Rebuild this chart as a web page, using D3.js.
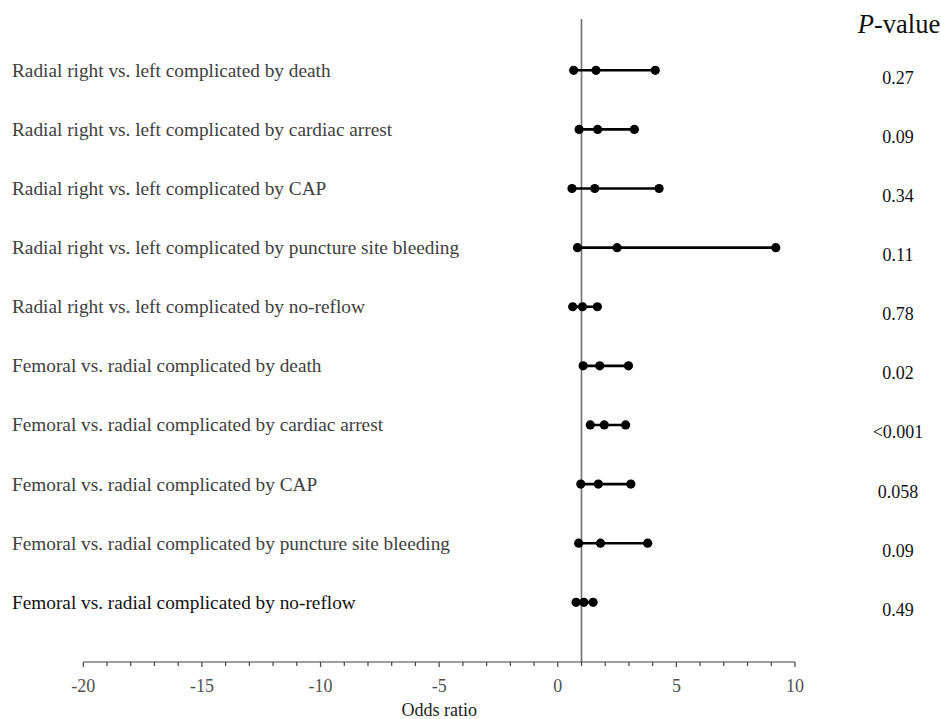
<!DOCTYPE html>
<html>
<head>
<meta charset="utf-8">
<script src="https://cdn.jsdelivr.net/npm/d3@7"></script>
<style>
  body { margin: 0; background: #fff; }
  svg { display: block; }
</style>
</head>
<body>
<svg id="chart" width="941" height="719"></svg>
<script>
// Comparisons, top to bottom
const categories = [
  "Radial right vs. left complicated by death",
  "Radial right vs. left complicated by cardiac arrest",
  "Radial right vs. left complicated by CAP",
  "Radial right vs. left complicated by puncture site bleeding",
  "Radial right vs. left complicated by no-reflow",
  "Femoral vs. radial complicated by death",
  "Femoral vs. radial complicated by cardiac arrest",
  "Femoral vs. radial complicated by CAP",
  "Femoral vs. radial complicated by puncture site bleeding",
  "Femoral vs. radial complicated by no-reflow"
];
// Odds ratio with 95% CI
const lower = [0.67, 0.90, 0.60, 0.83, 0.63, 1.07, 1.37, 0.97, 0.88, 0.77];
const oddsRatio = [1.61, 1.68, 1.56, 2.50, 1.04, 1.77, 1.96, 1.71, 1.80, 1.10];
const upper = [4.11, 3.23, 4.27, 9.19, 1.67, 2.98, 2.86, 3.08, 3.79, 1.49];
const pValues = ["0.27", "0.09", "0.34", "0.11", "0.78", "0.02", "<0.001", "0.058", "0.09", "0.49"];
const xTicks = [-20, -15, -10, -5, 0, 5, 10];

const svg = d3.select("#chart");
const font = "'Liberation Serif', 'Times New Roman', serif";

const x = d3.scaleLinear().domain([-20, 10]).range([83.3, 795]);
const y = d3.scalePoint().domain(categories).range([70.3, 602.3]);
const axisY = 662;

// Reference line at OR = 1
svg.append("line")
  .attr("x1", x(1)).attr("x2", x(1))
  .attr("y1", 19).attr("y2", axisY)
  .attr("stroke", "#6f6f6f")
  .attr("stroke-width", 1.6);

// X axis: minor ticks every 1, labels every 5
const axis = svg.append("g").attr("transform", `translate(0,${axisY})`);
axis.append("line")
  .attr("x1", x(-20)).attr("x2", x(10))
  .attr("stroke", "#404040").attr("stroke-width", 1.2);
axis.selectAll("line.tick")
  .data(d3.range(-20, 11))
  .join("line")
  .attr("class", "tick")
  .attr("x1", d => x(d)).attr("x2", d => x(d))
  .attr("y1", 0).attr("y2", d => d % 5 === 0 ? 5 : 4)
  .attr("stroke", "#404040").attr("stroke-width", 1.2);
axis.selectAll("text")
  .data(xTicks)
  .join("text")
  .attr("x", d => x(d))
  .attr("y", 30)
  .attr("text-anchor", "middle")
  .attr("fill", "#505050")
  .attr("font-size", 18)
  .style("font-family", font)
  .text(d => d);

// Axis title
svg.append("text")
  .attr("x", (x(-20) + x(10)) / 2)
  .attr("y", 716)
  .attr("text-anchor", "middle")
  .attr("fill", "#222")
  .attr("font-size", 18)
  .style("font-family", font)
  .text("Odds ratio");

// CI lines
const rows = categories.map((c, i) => ({ c, lo: lower[i], or: oddsRatio[i], hi: upper[i], p: pValues[i], i }));
svg.selectAll("line.ci")
  .data(rows)
  .join("line")
  .attr("class", "ci")
  .attr("x1", d => x(d.lo)).attr("x2", d => x(d.hi))
  .attr("y1", d => y(d.c)).attr("y2", d => y(d.c))
  .attr("stroke", "#000").attr("stroke-width", 2.6);

// Points: lower, OR, upper
svg.selectAll("g.pts")
  .data(rows)
  .join("g")
  .attr("class", "pts")
  .selectAll("circle")
  .data(d => [d.lo, d.or, d.hi].map(v => ({ v, c: d.c })))
  .join("circle")
  .attr("cx", d => x(d.v))
  .attr("cy", d => y(d.c))
  .attr("r", 4.6)
  .attr("fill", "#000");

// Row labels
svg.selectAll("text.label")
  .data(rows)
  .join("text")
  .attr("class", "label")
  .attr("x", 12)
  .attr("y", d => y(d.c) + 6.5)
  .attr("fill", d => d.i === rows.length - 1 ? "#111" : "#404040")
  .attr("font-size", 19.3)
  .style("font-family", font)
  .text(d => d.c);

// P-values
svg.append("text")
  .attr("x", 899)
  .attr("y", 33)
  .attr("text-anchor", "middle")
  .attr("fill", "#111")
  .attr("font-size", 26.5)
  .style("font-family", font)
  .html('<tspan font-style="italic">P</tspan>-value');

svg.selectAll("text.pval")
  .data(rows)
  .join("text")
  .attr("class", "pval")
  .attr("x", 898)
  .attr("y", d => y(d.c) + 13.5)
  .attr("text-anchor", "middle")
  .attr("fill", "#111")
  .attr("font-size", 18)
  .style("font-family", font)
  .text(d => d.p);
</script>
</body>
</html>
